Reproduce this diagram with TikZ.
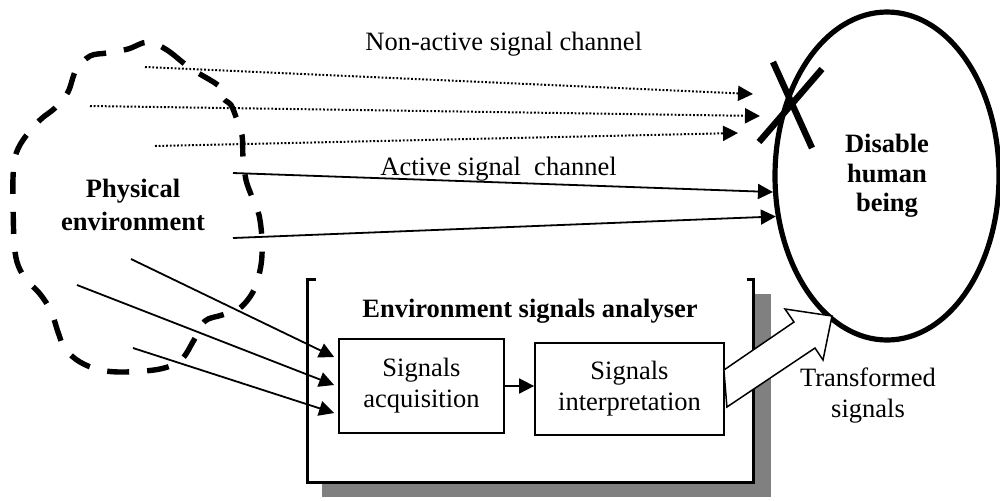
\documentclass[tikz,border=0pt]{standalone}
\usepackage{fontspec}
\setmainfont{Liberation Serif}
\usetikzlibrary{arrows.meta,shapes.geometric,calc}
\definecolor{shadowgray}{HTML}{808080}

\begin{document}
\begin{tikzpicture}[x=0.5pt,y=-0.5pt,
  lbl/.style={font=\fontsize{13.25}{15.5}\selectfont, inner sep=0pt, align=center},
  blbl/.style={lbl, font=\fontsize{13.25}{15.5}\selectfont\bfseries},
  tip/.style={-{Triangle[length=7.5pt,width=7.5pt]}},
  sig/.style={tip, line width=0.9pt},
  dots/.style={sig, line width=1pt, dash pattern=on 0.9pt off 0.95pt},
  procbox/.style={draw, line width=0.9pt, lbl},
  cloudline/.style={line width=2.7pt, dash pattern=on 11pt off 9pt},
  crossline/.style={line width=3.2pt},
  hollow/.style={draw, line width=0.75pt, fill=white, line join=miter}]
\useasboundingbox (0,0) rectangle (1000,500);

% physical environment: dashed cloud
\draw[cloudline] plot[smooth cycle, tension=0.55] coordinates {
  (148,42) (167,50) (190,68) (215,83) (225,92) (224,99) (231,105) (236,117)
  (242,135) (243,157) (246,180) (252,197) (259,215) (262,240) (261,265)
  (254,290) (240,308) (222,315) (205,321) (194,340) (181,360) (160,369)
  (125,372) (100,370) (80,362) (65,349) (58,332) (51,311) (40,294) (25,278)
  (17,262) (14,240) (13,200) (13,178) (15,157) (23,140) (40,120) (55,108)
  (68,92) (76,70) (90,56) (107,53) (128,49)};
\node[blbl, font=\fontsize{13.25}{16.5}\selectfont\bfseries] (phys) at (133,205) {Physical\\environment};

% environment signals analyser (shadowed container)
\node[minimum width=222.5pt, minimum height=101pt, inner sep=0pt] (esa) at (530.5,381) {};
\fill[shadowgray] ($(esa.south west)+(14,15)$) rectangle ($(esa.north east)+(18,14)$);
\fill[white] (esa.south west) rectangle (esa.north east);
\draw[line width=1.5pt] ($(esa.north west)+(8,0)$) -- (esa.north west) -- (esa.south west)
  -- (esa.south east) -- (esa.north east) -- ($(esa.north east)+(-6,0)$);
\node[blbl, anchor=base] (esat) at (530,317) {Environment signals analyser};

\node[procbox, minimum width=82.5pt, minimum height=47pt] (acq) at (421.5,386) {Signals\\acquisition};
\node[procbox, minimum width=94.5pt, minimum height=46pt] (int) at (629.5,389) {Signals\\interpretation};
\draw[sig] (acq.east) -- (acq.east -| int.west);

% the person
\node[ellipse, draw, line width=2.6pt, minimum width=112pt, minimum height=164pt, inner sep=0pt,
  blbl, font=\fontsize{13.25}{14.75}\selectfont\bfseries] (hum) at (887,176) {Disable\\human\\being};

% non-active channels
\node[lbl, anchor=base west] (nsc) at (365,50) {Non-active signal channel};
\coordinate (n1) at (145,67);  \coordinate (n1e) at (753,94);
\coordinate (n2) at (90,106);  \coordinate (n2e) at (760,116);
\coordinate (n3) at (155,146); \coordinate (n3e) at (738,133);
\draw[dots] (n1) -- (n1e);
\draw[dots] (n2) -- (n2e);
\draw[dots] (n3) -- (n3e);
\draw[crossline] (773,62) -- (812,148);
\draw[crossline] (822,69) -- (759,142);

% active channels
\node[lbl, anchor=base west] (asc) at (380,175) {Active signal~ channel};
\coordinate (a1) at (233,173);
\coordinate (a2) at (233,238);
\draw[sig] (a1) -- (hum.188);
\draw[sig] (a2) -- (hum.200);

% signals into the analyser
\coordinate (l1) at (131,259);
\coordinate (l2) at (77,285);
\coordinate (l3) at (133,348);
\draw[sig] (l1) -- ($(acq.west)+(-4,-29)$);
\draw[sig] (l2) -- ($(acq.west)+(-4,-1)$);
\draw[sig] (l3) -- ($(acq.west)+(-4,27)$);

% transformed signals: hollow arrow to the person
\path[hollow] ($(int.east)+(-1,-19)$) -- (794,322) -- (785,309) -- (832,316)
  -- (823,360) -- (815,348) -- ($(int.east)+(2,18)$) -- cycle;
\node[lbl] (trs) at (868,396) {Transformed\\signals};
\end{tikzpicture}
\end{document}
